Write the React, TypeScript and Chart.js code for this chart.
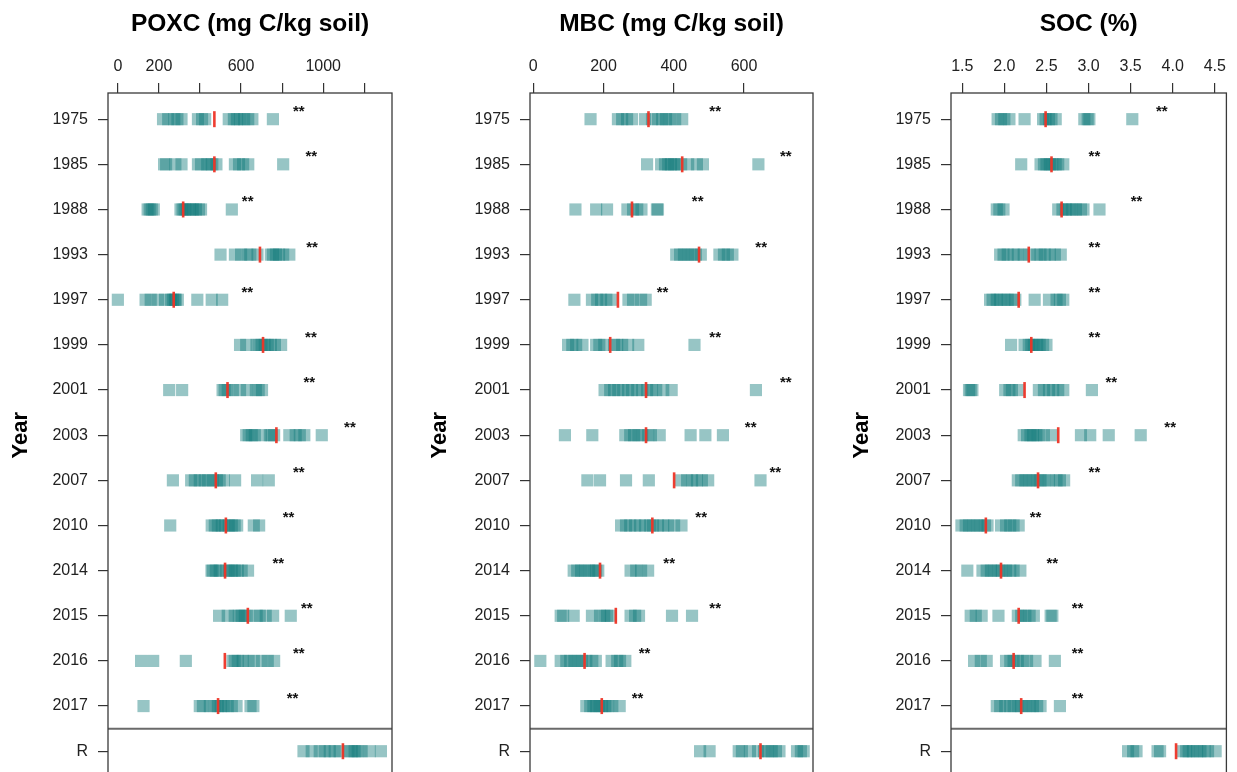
import React, { useEffect, useRef } from "react";
import { Chart, registerables } from "chart.js";

Chart.register(...registerables);

const FONT = "'Liberation Sans', Arial, Helvetica, sans-serif";

// Row labels (top to bottom)
const years = ["1975", "1985", "1988", "1993", "1997", "1999", "2001", "2003", "2007", "2010", "2014", "2015", "2016", "2017", "R"];

// ---------- POXC (mg C/kg soil) ----------
const poxcValues = [
  [220, 245, 275, 290, 310, 390, 410, 425, 540, 565, 580, 595, 615, 635, 655, 755],
  [225, 235, 280, 310, 390, 405, 435, 450, 460, 480, 570, 590, 610, 635, 805],
  [145, 155, 165, 175, 305, 315, 325, 335, 350, 365, 380, 395, 405, 555],
  [500, 570, 600, 630, 645, 680, 745, 755, 770, 785, 805, 835],
  [0, 135, 160, 195, 230, 258, 268, 277, 282, 292, 387, 457, 508],
  [595, 625, 675, 685, 700, 715, 730, 745, 765, 795],
  [250, 313, 510, 520, 535, 560, 595, 628, 672, 686, 702],
  [625, 637, 652, 667, 696, 740, 749, 761, 835, 866, 886, 908, 993],
  [268, 357, 375, 399, 423, 438, 462, 482, 496, 516, 571, 678, 735],
  [255, 457, 472, 487, 506, 521, 540, 555, 569, 581, 662, 688],
  [456, 462, 477, 496, 526, 540, 555, 569, 584, 603, 634],
  [493, 535, 569, 589, 603, 618, 628, 676, 691, 720, 756, 842],
  [113, 172, 331, 558, 569, 584, 608, 637, 662, 701, 730, 761],
  [125, 399, 414, 448, 472, 487, 501, 516, 535, 555, 578, 646, 660],
  [904, 944, 983, 1007, 1032, 1056, 1080, 1124, 1139, 1153, 1168, 1187, 1226, 1281],
];
const poxcMedians = [470, 470, 318, 692, 272, 707, 534, 772, 477, 526, 522, 633, 521, 488, 1096];
const poxcStarX = [881, 942, 632, 946, 630, 940, 932, 1130, 881, 831, 781, 920, 881, 851];
const poxcTicks = [0, 200, 400, 600, 800, 1000, 1200];
const poxcTickLabels = ["0", "200", "", "600", "", "1000", ""];

// ---------- MBC (mg C/kg soil) ----------
const mbcValues = [
  [163, 241, 253, 267, 281, 318, 338, 355, 367, 378, 389, 404, 424],
  [324, 364, 375, 384, 392, 401, 409, 421, 441, 466, 483, 641],
  [120, 179, 210, 268, 284, 296, 308, 352, 355],
  [407, 418, 429, 441, 452, 463, 477, 530, 543, 554, 567],
  [117, 167, 182, 193, 208, 221, 271, 284, 307, 320],
  [99, 111, 122, 140, 179, 188, 202, 230, 239, 253, 270, 299, 459],
  [203, 219, 230, 242, 256, 270, 281, 296, 310, 324, 338, 350, 370, 394, 634],
  [90, 168, 262, 276, 287, 299, 310, 327, 335, 360, 448, 490, 540],
  [154, 190, 264, 329, 419, 438, 452, 466, 480, 498, 647],
  [250, 264, 276, 290, 304, 318, 333, 341, 355, 370, 384, 401, 422],
  [115, 125, 136, 148, 159, 171, 179, 185, 277, 293, 307, 327],
  [78, 85, 115, 167, 190, 202, 210, 221, 277, 290, 301, 395, 452],
  [20, 78, 94, 105, 117, 128, 139, 151, 168, 178, 223, 239, 247, 262],
  [151, 162, 171, 179, 188, 196, 205, 213, 225, 246],
  [475, 502, 585, 594, 617, 640, 657, 668, 679, 691, 701, 751, 762, 770],
];
const mbcMedians = [328, 424, 281, 472, 241, 219, 321, 321, 401, 339, 190, 235, 146, 195, 647];
const mbcStarX = [518, 719, 468, 649, 368, 518, 719, 619, 689, 478, 387, 518, 317, 297];
const mbcTicks = [0, 200, 400, 600];
const mbcTickLabels = ["0", "200", "400", "600"];

// ---------- SOC (%) ----------
const socValues = [
  [1.92, 1.96, 2.0, 2.06, 2.24, 2.46, 2.49, 2.53, 2.56, 2.61, 2.95, 2.99, 3.01, 3.52],
  [2.2, 2.43, 2.47, 2.5, 2.54, 2.57, 2.61, 2.64, 2.7],
  [1.91, 1.94, 1.99, 2.64, 2.69, 2.73, 2.77, 2.8, 2.85, 2.91, 2.94, 3.13],
  [1.95, 1.99, 2.04, 2.11, 2.16, 2.23, 2.3, 2.39, 2.43, 2.48, 2.54, 2.6, 2.67],
  [1.83, 1.86, 1.91, 1.95, 2.0, 2.04, 2.09, 2.13, 2.36, 2.53, 2.62, 2.66, 2.7],
  [2.08, 2.24, 2.29, 2.32, 2.35, 2.39, 2.42, 2.46, 2.5],
  [1.58, 1.6, 1.62, 2.01, 2.06, 2.09, 2.17, 2.41, 2.47, 2.53, 2.58, 2.64, 2.7, 3.04],
  [2.23, 2.27, 2.31, 2.34, 2.38, 2.41, 2.47, 2.56, 2.91, 3.02, 3.24, 3.62],
  [2.16, 2.2, 2.25, 2.3, 2.34, 2.39, 2.43, 2.48, 2.53, 2.62, 2.66, 2.71],
  [1.49, 1.54, 1.58, 1.63, 1.68, 1.72, 1.77, 1.8, 1.96, 2.02, 2.07, 2.11, 2.17],
  [1.56, 1.74, 1.79, 1.84, 1.88, 1.93, 1.97, 2.02, 2.07, 2.11, 2.19],
  [1.6, 1.66, 1.73, 1.93, 2.16, 2.2, 2.25, 2.3, 2.35, 2.55, 2.57],
  [1.64, 1.72, 1.79, 2.02, 2.07, 2.11, 2.16, 2.22, 2.27, 2.37, 2.6],
  [1.91, 1.95, 2.01, 2.07, 2.11, 2.16, 2.2, 2.25, 2.3, 2.34, 2.39, 2.43, 2.66],
  [3.47, 3.53, 3.57, 3.82, 3.85, 4.12, 4.16, 4.19, 4.24, 4.29, 4.33, 4.38, 4.42, 4.51],
];
const socMedians = [2.49, 2.56, 2.68, 2.29, 2.17, 2.32, 2.24, 2.64, 2.4, 1.78, 1.96, 2.17, 2.11, 2.2, 4.04];
const socStarX = [3.87, 3.07, 3.57, 3.07, 3.07, 3.07, 3.27, 3.97, 3.07, 2.37, 2.57, 2.87, 2.87, 2.87];
const socTicks = [1.5, 2.0, 2.5, 3.0, 3.5, 4.0, 4.5];
const socTickLabels = ["1.5", "2.0", "2.5", "3.0", "3.5", "4.0", "4.5"];

const starText = "**";

const SQUARE_COLOR = "rgba(18, 122, 124, 0.44)";
const MEDIAN_COLOR = "rgba(238, 52, 38, 0.95)";

type PanelCfg = {
  title: string;
  values: number[][];
  medians: number[];
  stars: number[];
  ticks: number[];
  tickLabels: string[];
  min: number;
  max: number;
  left: number;
  width: number;
  padRight: number;
  yWidth: number;
};

const CANVAS_H = 797;

const panels: PanelCfg[] = [
  {
    title: "POXC (mg C/kg soil)",
    values: poxcValues,
    medians: poxcMedians,
    stars: poxcStarX,
    ticks: poxcTicks,
    tickLabels: poxcTickLabels,
    min: -48,
    max: 1335,
    left: 0,
    width: 410,
    padRight: 18,
    yWidth: 108,
  },
  {
    title: "MBC (mg C/kg soil)",
    values: mbcValues,
    medians: mbcMedians,
    stars: mbcStarX,
    ticks: mbcTicks,
    tickLabels: mbcTickLabels,
    min: -9.4,
    max: 796.5,
    left: 419,
    width: 410,
    padRight: 16,
    yWidth: 111,
  },
  {
    title: "SOC (%)",
    values: socValues,
    medians: socMedians,
    stars: socStarX,
    ticks: socTicks,
    tickLabels: socTickLabels,
    min: 1.366,
    max: 4.638,
    left: 841,
    width: 396,
    padRight: 1,
    yWidth: 110,
  },
];

function Panel({ cfg }: { cfg: PanelCfg }) {
  const ref = useRef<HTMLCanvasElement>(null);

  useEffect(() => {
    const canvas = ref.current;
    if (!canvas) return;

    const points: { x: number; y: number }[] = [];
    cfg.values.forEach((row, i) => row.forEach((v) => points.push({ x: v, y: i })));
    const med = cfg.medians.map((m, i) => ({ x: m, y: i }));

    const overlay = {
      id: "overlay",
      afterDraw(chart: any) {
        const { ctx, chartArea } = chart;
        const xs = chart.scales.x;
        const ys = chart.scales.y;
        ctx.save();
        // separator between years and R
        const sepY = ys.getPixelForValue(years.length - 1.5);
        ctx.strokeStyle = "#6a6a6a";
        ctx.lineWidth = 2;
        ctx.beginPath();
        ctx.moveTo(chartArea.left, sepY);
        ctx.lineTo(chartArea.right, sepY);
        ctx.stroke();
        // box
        ctx.strokeStyle = "#3a3a3a";
        ctx.lineWidth = 1.3;
        ctx.strokeRect(chartArea.left, chartArea.top, chartArea.right - chartArea.left, chartArea.bottom - chartArea.top);
        // significance stars
        ctx.fillStyle = "#111";
        ctx.font = `bold 15px ${FONT}`;
        ctx.textAlign = "center";
        ctx.textBaseline = "alphabetic";
        cfg.stars.forEach((sx, i) => {
          const px = xs.getPixelForValue(sx);
          const py = ys.getPixelForValue(i) - 3;
          ctx.fillText(starText, px, py);
        });
        ctx.restore();
      },
    };

    const chart = new Chart(canvas, {
      type: "scatter",
      data: {
        datasets: [
          {
            data: points,
            pointStyle: "rect",
            pointRadius: 8.6,
            pointHoverRadius: 8.6,
            pointBackgroundColor: SQUARE_COLOR,
            pointBorderWidth: 0,
            pointBorderColor: "rgba(0,0,0,0)",
            order: 2,
            clip: false as any,
          },
          {
            data: med,
            pointStyle: "line",
            pointRotation: 90,
            pointRadius: 8,
            pointHoverRadius: 8,
            pointBorderColor: MEDIAN_COLOR,
            pointBackgroundColor: MEDIAN_COLOR,
            pointBorderWidth: 2.6,
            order: 1,
            clip: false as any,
          },
        ],
      },
      options: {
        animation: false,
        responsive: false,
        devicePixelRatio: 1,
        events: [],
        layout: { padding: { left: 0, right: cfg.padRight, top: 0, bottom: 0 } },
        plugins: {
          legend: { display: false },
          tooltip: { enabled: false },
          title: {
            display: true,
            text: cfg.title,
            color: "#000",
            fullSize: false,
            font: { family: FONT, size: 24.5, weight: "bold" },
            padding: { top: 9.7, bottom: 0 },
          },
        },
        scales: {
          x: {
            type: "linear",
            position: "top",
            min: cfg.min,
            max: cfg.max,
            afterBuildTicks: (s: any) => {
              s.ticks = cfg.ticks.map((v) => ({ value: v }));
            },
            afterFit: (s: any) => {
              s.height = 53.9;
            },
            ticks: {
              autoSkip: false,
              maxRotation: 0,
              minRotation: 0,
              padding: 7,
              color: "#222",
              font: { family: FONT, size: 16 },
              callback: (_v: any, i: number) => cfg.tickLabels[i],
            },
            grid: { drawOnChartArea: false, drawTicks: true, tickLength: 10, color: "#333", lineWidth: 1.2 },
            border: { display: false },
          },
          y: {
            type: "linear",
            position: "left",
            reverse: true,
            min: -0.58,
            max: 14.58,
            afterBuildTicks: (s: any) => {
              s.ticks = years.map((_, i) => ({ value: i }));
            },
            afterFit: (s: any) => {
              s.width = cfg.yWidth;
            },
            ticks: {
              autoSkip: false,
              padding: 10,
              color: "#222",
              font: { family: FONT, size: 16 },
              callback: (_v: any, i: number) => years[i],
            },
            grid: { drawOnChartArea: false, drawTicks: true, tickLength: 10, color: "#333", lineWidth: 1.2 },
            border: { display: false },
            title: {
              display: true,
              text: "Year",
              color: "#000",
              font: { family: FONT, size: 22, weight: "bold" },
              padding: { top: 8, bottom: 0 },
            },
          },
        },
      } as any,
      plugins: [overlay],
    });

    return () => chart.destroy();
  }, [cfg]);

  return (
    <canvas
      ref={ref}
      width={cfg.width}
      height={CANVAS_H}
      style={{ position: "absolute", left: cfg.left, top: 0, width: cfg.width, height: CANVAS_H }}
    />
  );
}

export default function App() {
  return (
    <div
      style={{
        position: "fixed",
        left: 0,
        top: 0,
        width: 1237,
        height: 772,
        overflow: "hidden",
        background: "#fff",
      }}
    >
      {panels.map((p) => (
        <Panel key={p.title} cfg={p} />
      ))}
    </div>
  );
}
